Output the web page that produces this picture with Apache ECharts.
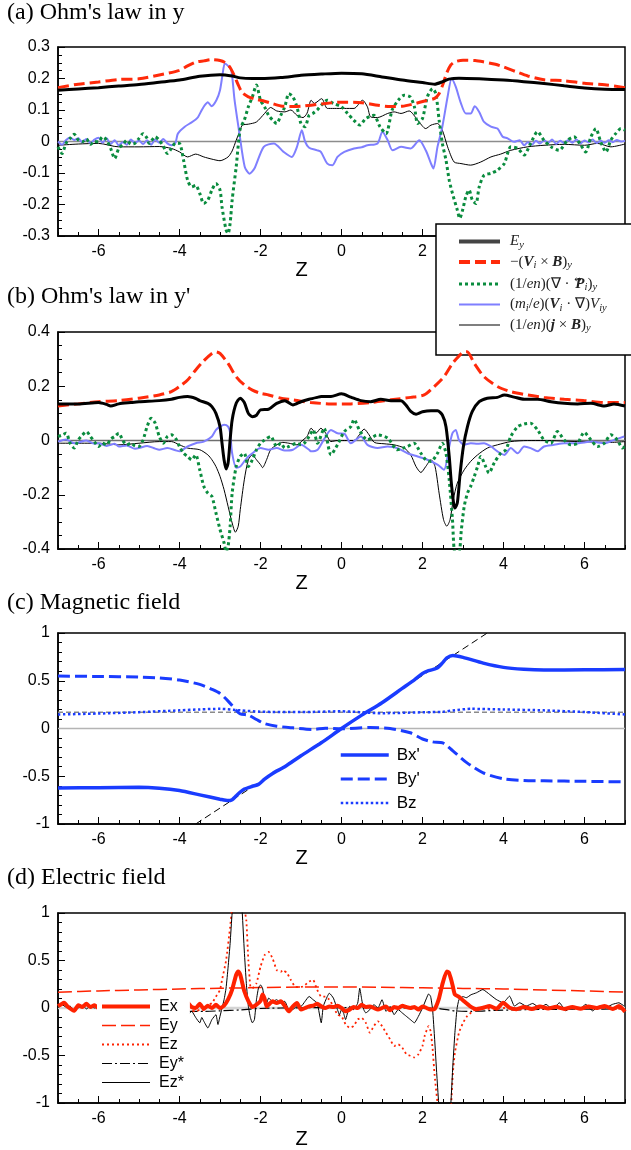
<!DOCTYPE html>
<html>
<head>
<meta charset="utf-8">
<script src="https://cdn.jsdelivr.net/npm/echarts@6/dist/echarts.min.js"></script>
<style>
  html, body { margin: 0; padding: 0; background: #fff; overflow: hidden; }
  #chart { width: 631px; height: 1150px; }
</style>
</head>
<body>
<div id="chart"></div>
<script>
// ---- axis ranges and tick labels ----
const Z_MIN = -7, Z_MAX = 7;
const zTickLabels = [-6, -4, -2, 0, 2, 4, 6];
const panelTitles = ["(a) Ohm's law in y", "(b) Ohm's law in y'", "(c) Magnetic field", "(d) Electric field"];

// reference lines
const zeroLine = [[Z_MIN, 0], [Z_MAX, 0]];
const bzRef = [[Z_MIN, 0.17], [Z_MAX, 0.17]];
const diagRef = [[-3.6, -1], [3.6, 1]];

// ---- (a) Ohm's law in y ----
const aEy = [[-7,0.163],[-6.5,0.167],[-6,0.171],[-5.5,0.176],[-5,0.181],[-4.5,0.188],[-4,0.195],[-3.5,0.207],[-3,0.212],[-2.7,0.208],[-2.5,0.202],[-2.2,0.2],[-2,0.2],[-1.5,0.203],[-1,0.21],[-0.5,0.214],[0,0.217],[0.5,0.215],[1,0.205],[1.5,0.195],[2,0.187],[2.3,0.182],[2.5,0.19],[2.65,0.198],[2.9,0.201],[3.4,0.199],[4,0.195],[4.5,0.19],[5,0.184],[5.5,0.177],[6,0.17],[6.5,0.166],[7,0.165]];
const aVxB = [[-7,0.171],[-6.5,0.182],[-6,0.189],[-5.5,0.197],[-5,0.199],[-4.5,0.211],[-4,0.226],[-3.8,0.24],[-3.6,0.252],[-3.4,0.256],[-3.2,0.26],[-3,0.257],[-2.85,0.249],[-2.75,0.235],[-2.65,0.21],[-2.55,0.18],[-2.45,0.155],[-2.3,0.142],[-2.1,0.134],[-1.9,0.128],[-1.7,0.12],[-1.5,0.113],[-1.2,0.111],[-1,0.112],[-0.5,0.119],[0,0.125],[0.5,0.123],[0.9,0.115],[1.2,0.111],[1.5,0.112],[1.8,0.12],[2.1,0.13],[2.3,0.137],[2.4,0.15],[2.5,0.18],[2.6,0.218],[2.7,0.243],[2.8,0.253],[3,0.258],[3.3,0.257],[3.5,0.253],[3.8,0.245],[4,0.237],[4.3,0.222],[4.6,0.208],[5,0.196],[5.5,0.193],[6,0.185],[6.5,0.18],[7,0.171]];
const aDivP = [[-7,-0.017],[-6.9,-0.038],[-6.8,-0.005],[-6.7,0.01],[-6.6,0.023],[-6.5,0.005],[-6.4,-0.001],[-6.3,0.008],[-6.2,-0.009],[-6.1,0.0],[-6.0,-0.001],[-5.9,0.015],[-5.8,0.005],[-5.7,-0.022],[-5.6,-0.054],[-5.5,-0.022],[-5.4,-0.01],[-5.3,0.004],[-5.2,-0.008],[-5.1,-0.006],[-5.0,0.01],[-4.9,0.025],[-4.8,0.01],[-4.75,-0.006],[-4.6,0.015],[-4.5,0.004],[-4.4,-0.015],[-4.3,-0.038],[-4.2,-0.022],[-4.1,-0.005],[-4.0,-0.006],[-3.9,-0.059],[-3.8,-0.123],[-3.7,-0.144],[-3.6,-0.139],[-3.5,-0.165],[-3.4,-0.197],[-3.3,-0.186],[-3.2,-0.154],[-3.1,-0.133],[-3.0,-0.154],[-2.95,-0.208],[-2.85,-0.281],[-2.8,-0.292],[-2.75,-0.26],[-2.7,-0.186],[-2.6,-0.08],[-2.5,0.041],[-2.4,0.068],[-2.3,0.11],[-2.2,0.142],[-2.1,0.179],[-2.0,0.131],[-1.9,0.11],[-1.8,0.083],[-1.7,0.068],[-1.6,0.057],[-1.5,0.083],[-1.4,0.11],[-1.3,0.152],[-1.2,0.142],[-1.1,0.11],[-1.0,0.057],[-0.9,0.047],[-0.8,0.083],[-0.7,0.09],[-0.6,0.1],[-0.5,0.115],[-0.35,0.131],[-0.2,0.121],[0,0.11],[0.15,0.089],[0.3,0.068],[0.45,0.052],[0.6,0.073],[0.8,0.083],[0.95,0.047],[1.1,0.025],[1.25,0.1],[1.4,0.131],[1.55,0.147],[1.7,0.141],[1.8,0.11],[1.88,0.057],[2.0,0.073],[2.12,0.142],[2.25,0.168],[2.33,0.152],[2.41,0.068],[2.49,-0.006],[2.58,-0.059],[2.66,-0.123],[2.74,-0.165],[2.86,-0.218],[2.92,-0.244],[2.99,-0.218],[3.07,-0.175],[3.15,-0.154],[3.23,-0.186],[3.32,-0.197],[3.4,-0.144],[3.52,-0.107],[3.69,-0.101],[3.85,-0.091],[4.02,-0.07],[4.18,-0.017],[4.35,-0.022],[4.51,-0.043],[4.67,-0.006],[4.84,0.031],[5.0,0.004],[5.17,-0.017],[5.37,-0.028],[5.58,0.004],[5.74,0.015],[5.91,-0.012],[6.03,-0.033],[6.16,0.015],[6.28,0.041],[6.4,-0.001],[6.53,-0.033],[6.65,0.004],[6.77,0.025],[6.9,0.041],[7.0,0.036]];
const aVgradV = [[-7,0.0],[-6.9,-0.01],[-6.8,0.005],[-6.7,0.012],[-6.6,0.005],[-6.5,0.01],[-6.4,-0.002],[-6.3,0.008],[-6.2,-0.005],[-6.1,0.006],[-6.0,0.012],[-5.9,-0.004],[-5.8,0.01],[-5.7,-0.008],[-5.6,0.004],[-5.5,-0.012],[-5.4,-0.002],[-5.3,-0.01],[-5.2,0.006],[-5.1,-0.005],[-5.0,0.003],[-4.9,-0.008],[-4.8,0.004],[-4.7,-0.01],[-4.6,0.006],[-4.5,-0.004],[-4.4,0.008],[-4.3,-0.006],[-4.2,-0.012],[-4.1,-0.004],[-4.04,0.025],[-3.87,0.047],[-3.71,0.06],[-3.6,0.07],[-3.54,0.078],[-3.45,0.1],[-3.38,0.115],[-3.3,0.125],[-3.21,0.112],[-3.09,0.131],[-3.0,0.163],[-2.94,0.21],[-2.88,0.248],[-2.8,0.24],[-2.72,0.226],[-2.64,0.131],[-2.52,0.025],[-2.39,-0.08],[-2.27,-0.102],[-2.15,-0.086],[-1.92,-0.017],[-1.67,-0.006],[-1.43,-0.033],[-1.23,-0.049],[-1.1,-0.017],[-0.98,0.036],[-0.9,0.0],[-0.8,-0.02],[-0.6,-0.028],[-0.51,-0.033],[-0.35,-0.07],[-0.22,-0.075],[-0.1,-0.049],[0.07,-0.033],[0.31,-0.022],[0.5,-0.018],[0.64,-0.012],[0.89,-0.006],[1.01,0.031],[1.14,0.004],[1.26,-0.028],[1.47,-0.017],[1.71,-0.022],[1.92,0.004],[2.08,-0.028],[2.21,-0.07],[2.27,-0.086],[2.37,-0.017],[2.49,0.047],[2.62,0.142],[2.72,0.2],[2.82,0.174],[2.95,0.121],[3.07,0.089],[3.19,0.089],[3.29,0.112],[3.4,0.094],[3.52,0.062],[3.69,0.047],[3.85,0.041],[3.98,0.015],[4.1,0.01],[4.26,-0.001],[4.4,0.004],[4.51,-0.012],[4.6,-0.002],[4.7,-0.01],[4.8,0.002],[4.9,-0.006],[5.0,0.004],[5.1,-0.004],[5.2,0.006],[5.3,-0.008],[5.4,0.002],[5.5,-0.005],[5.6,0.005],[5.7,-0.004],[5.8,0.006],[5.9,-0.006],[6.0,0.003],[6.1,-0.003],[6.2,0.006],[6.3,-0.005],[6.4,0.002],[6.5,-0.004],[6.6,0.004],[6.7,-0.002],[6.8,0.005],[6.9,0.0],[7.0,0.002]];
const aJxB = [[-7,-0.012],[-6.5,-0.008],[-6,-0.006],[-5.5,-0.017],[-5,-0.017],[-4.5,-0.016],[-4.2,-0.022],[-4,-0.033],[-3.8,-0.049],[-3.6,-0.04],[-3.4,-0.049],[-3.2,-0.056],[-3,-0.061],[-2.8,-0.049],[-2.7,-0.03],[-2.6,0.004],[-2.5,0.036],[-2.45,0.052],[-2.3,0.055],[-2.1,0.062],[-1.9,0.089],[-1.75,0.108],[-1.6,0.097],[-1.4,0.094],[-1.25,0.1],[-1.1,0.083],[-0.95,0.076],[-0.85,0.09],[-0.75,0.131],[-0.67,0.121],[-0.49,0.136],[-0.35,0.105],[-0.18,0.105],[0.07,0.105],[0.31,0.105],[0.52,0.131],[0.64,0.11],[0.72,0.078],[0.89,0.076],[1.14,0.089],[1.3,0.094],[1.47,0.089],[1.67,0.097],[1.88,0.068],[2.08,0.041],[2.21,0.052],[2.37,0.057],[2.49,0.036],[2.62,-0.017],[2.78,-0.065],[2.95,-0.07],[3.19,-0.075],[3.44,-0.065],[3.69,-0.049],[3.93,-0.04],[4.18,-0.028],[4.59,-0.017],[5,-0.012],[5.5,-0.009],[6,-0.012],[6.32,-0.006],[6.65,-0.017],[7,-0.008]];

// ---- (b) Ohm's law in y' ----
const bEy = [[-7,0.135],[-6.5,0.135],[-6,0.14],[-5.8,0.133],[-5.7,0.127],[-5.5,0.135],[-5.2,0.14],[-5,0.143],[-4.5,0.147],[-4.2,0.152],[-4,0.159],[-3.8,0.162],[-3.6,0.155],[-3.5,0.147],[-3.3,0.137],[-3.2,0.125],[-3.1,0.1],[-3.0,0.051],[-2.95,-0.01],[-2.9,-0.071],[-2.85,-0.105],[-2.8,-0.083],[-2.75,0.002],[-2.7,0.076],[-2.6,0.137],[-2.5,0.156],[-2.4,0.14],[-2.3,0.1],[-2.2,0.088],[-2.1,0.093],[-2.0,0.113],[-1.8,0.115],[-1.6,0.137],[-1.4,0.147],[-1.2,0.131],[-1.0,0.143],[-0.8,0.152],[-0.6,0.159],[-0.5,0.162],[-0.26,0.162],[0,0.172],[0.23,0.16],[0.48,0.147],[0.72,0.143],[0.97,0.152],[1.22,0.147],[1.47,0.147],[1.59,0.131],[1.71,0.107],[1.84,0.097],[2.0,0.106],[2.21,0.11],[2.37,0.11],[2.49,0.094],[2.58,0.051],[2.66,-0.059],[2.72,-0.169],[2.8,-0.249],[2.86,-0.23],[2.93,-0.12],[3.01,-0.022],[3.11,0.051],[3.23,0.107],[3.4,0.143],[3.6,0.156],[3.85,0.159],[4.02,0.168],[4.26,0.16],[4.51,0.152],[4.84,0.152],[5.17,0.143],[5.5,0.137],[5.83,0.135],[6.16,0.137],[6.49,0.127],[6.73,0.135],[7,0.127]];
const bVxB = [[-7,0.127],[-6.5,0.135],[-6,0.143],[-5.5,0.147],[-5,0.156],[-4.5,0.168],[-4.2,0.18],[-4,0.199],[-3.8,0.223],[-3.6,0.26],[-3.4,0.294],[-3.2,0.321],[-3.1,0.327],[-3.0,0.321],[-2.8,0.284],[-2.6,0.235],[-2.4,0.205],[-2.2,0.186],[-2.0,0.174],[-1.8,0.168],[-1.5,0.156],[-1.2,0.15],[-1.0,0.145],[-0.76,0.14],[-0.26,0.135],[0.23,0.135],[0.72,0.14],[1.22,0.15],[1.71,0.159],[2.04,0.168],[2.29,0.199],[2.53,0.235],[2.74,0.284],[2.86,0.305],[3.0,0.325],[3.1,0.327],[3.28,0.284],[3.52,0.235],[3.85,0.199],[4.18,0.18],[4.59,0.168],[5.0,0.159],[5.5,0.152],[6.0,0.147],[6.5,0.14],[7.0,0.14]];
const bDivP = [[-7,0.015],[-6.9,0.02],[-6.8,0.027],[-6.7,-0.01],[-6.6,-0.028],[-6.5,0.002],[-6.4,0.02],[-6.3,0.033],[-6.2,0.015],[-6.1,-0.005],[-6.0,-0.022],[-5.9,-0.01],[-5.8,-0.016],[-5.7,0.005],[-5.6,0.015],[-5.5,0.027],[-5.4,0.0],[-5.3,-0.016],[-5.2,-0.01],[-5.1,-0.02],[-5.0,-0.022],[-4.9,0.002],[-4.8,0.051],[-4.7,0.082],[-4.6,0.064],[-4.5,0.015],[-4.4,-0.01],[-4.3,0.015],[-4.2,0.021],[-4.1,0.009],[-4.0,-0.022],[-3.9,-0.047],[-3.8,-0.059],[-3.7,-0.071],[-3.6,-0.053],[-3.5,-0.108],[-3.4,-0.169],[-3.3,-0.194],[-3.2,-0.206],[-3.1,-0.267],[-3.0,-0.328],[-2.9,-0.377],[-2.85,-0.41],[-2.8,-0.39],[-2.75,-0.316],[-2.7,-0.194],[-2.6,-0.096],[-2.5,-0.059],[-2.4,-0.047],[-2.3,-0.096],[-2.2,-0.071],[-2.1,-0.034],[-2.0,-0.01],[-1.9,0.002],[-1.75,0.015],[-1.6,-0.022],[-1.5,-0.01],[-1.4,-0.028],[-1.3,-0.022],[-1.1,-0.01],[-1.0,-0.016],[-0.9,-0.007],[-0.8,0.015],[-0.7,0.039],[-0.59,-0.01],[-0.43,0.045],[-0.26,-0.053],[-0.1,-0.016],[0.07,0.033],[0.23,0.051],[0.31,0.078],[0.44,0.039],[0.64,0.002],[0.89,0.021],[1.14,0.009],[1.38,-0.034],[1.63,-0.022],[1.79,-0.01],[1.96,-0.047],[2.08,-0.071],[2.21,-0.077],[2.37,-0.047],[2.49,-0.01],[2.58,-0.047],[2.66,-0.145],[2.74,-0.292],[2.8,-0.41],[2.9,-0.41],[2.96,-0.328],[3.03,-0.243],[3.11,-0.194],[3.19,-0.169],[3.28,-0.132],[3.36,-0.096],[3.44,-0.059],[3.56,-0.096],[3.64,-0.12],[3.77,-0.083],[3.93,-0.047],[4.06,-0.034],[4.18,0.015],[4.35,0.051],[4.51,0.061],[4.67,0.064],[4.84,0.039],[5.0,0.002],[5.17,-0.01],[5.33,0.033],[5.5,0.002],[5.66,-0.016],[5.83,-0.01],[5.99,0.03],[6.16,0.002],[6.32,-0.022],[6.49,-0.01],[6.65,0.021],[6.81,0.002],[6.94,-0.028],[7.0,-0.02]];
const bVgradV = [[-7,-0.004],[-6.8,0.004],[-6.6,-0.01],[-6.5,-0.008],[-6.3,0.0],[-6.1,-0.012],[-6,-0.01],[-5.8,-0.02],[-5.6,-0.012],[-5.5,-0.022],[-5.3,-0.018],[-5.1,-0.03],[-5,-0.028],[-4.8,-0.02],[-4.6,-0.03],[-4.5,-0.034],[-4.3,-0.028],[-4.1,-0.036],[-4,-0.04],[-3.8,-0.022],[-3.6,-0.01],[-3.4,-0.004],[-3.2,0.015],[-3.1,0.039],[-3.0,0.051],[-2.9,0.058],[-2.8,0.051],[-2.75,0.027],[-2.7,-0.047],[-2.6,-0.1],[-2.5,-0.096],[-2.4,-0.077],[-2.3,-0.059],[-2.2,-0.047],[-2.0,-0.028],[-1.8,-0.034],[-1.6,-0.028],[-1.4,-0.037],[-1.2,-0.034],[-1.0,-0.016],[-0.8,-0.034],[-0.76,-0.04],[-0.59,-0.034],[-0.43,0.005],[-0.26,0.039],[-0.1,0.027],[0.07,0.025],[0.23,-0.01],[0.48,0.015],[0.64,-0.016],[0.89,-0.028],[1.14,-0.022],[1.38,-0.028],[1.63,-0.047],[1.88,-0.059],[2.12,-0.071],[2.37,-0.089],[2.53,-0.108],[2.66,-0.022],[2.74,0.027],[2.82,0.039],[2.9,0.002],[3.03,-0.016],[3.19,-0.01],[3.36,-0.012],[3.52,-0.01],[3.69,-0.022],[3.85,-0.04],[4.02,-0.053],[4.18,-0.028],[4.35,-0.047],[4.51,-0.022],[4.67,-0.028],[4.84,-0.04],[5.0,-0.022],[5.25,-0.016],[5.5,-0.01],[5.83,-0.01],[6.16,-0.004],[6.49,-0.01],[6.73,0.002],[6.98,0.015]];
const bJxB = [[-7,-0.01],[-6,-0.01],[-5.5,-0.016],[-5,-0.01],[-4.5,-0.004],[-4.2,-0.004],[-4.0,-0.016],[-3.8,-0.028],[-3.5,-0.034],[-3.3,-0.053],[-3.2,-0.071],[-3.1,-0.096],[-3.0,-0.132],[-2.9,-0.181],[-2.8,-0.243],[-2.7,-0.304],[-2.62,-0.338],[-2.55,-0.316],[-2.5,-0.255],[-2.4,-0.145],[-2.3,-0.071],[-2.2,-0.053],[-2.1,-0.071],[-2.0,-0.089],[-1.95,-0.1],[-1.85,-0.071],[-1.75,-0.034],[-1.6,-0.016],[-1.45,-0.007],[-1.3,-0.01],[-1.1,-0.016],[-0.95,0.002],[-0.85,0.015],[-0.75,0.045],[-0.63,0.027],[-0.51,0.045],[-0.39,0.027],[-0.26,-0.004],[-0.1,0.0],[0.07,0.0],[0.31,0.0],[0.44,0.021],[0.56,0.042],[0.68,0.021],[0.81,-0.007],[1.05,-0.012],[1.3,-0.016],[1.55,-0.028],[1.71,-0.053],[1.84,-0.096],[1.96,-0.118],[2.08,-0.096],[2.21,-0.071],[2.31,-0.096],[2.41,-0.194],[2.52,-0.292],[2.6,-0.316],[2.68,-0.292],[2.76,-0.218],[2.86,-0.157],[3.03,-0.108],[3.19,-0.077],[3.36,-0.053],[3.6,-0.028],[3.85,-0.016],[4.18,-0.004],[4.59,0.0],[5.0,0.0],[5.83,-0.004],[6.65,-0.007],[7.0,-0.004]];

// ---- (c) Magnetic field ----
const cBx = [[-7,-0.622],[-6,-0.62],[-5,-0.615],[-4.5,-0.625],[-4,-0.65],[-3.5,-0.695],[-3,-0.74],[-2.8,-0.755],[-2.7,-0.745],[-2.6,-0.705],[-2.5,-0.665],[-2.4,-0.635],[-2.2,-0.605],[-2.05,-0.585],[-1.9,-0.53],[-1.7,-0.47],[-1.4,-0.4],[-1,-0.285],[-0.5,-0.15],[0,0.0],[0.5,0.14],[1,0.27],[1.5,0.42],[1.8,0.51],[2.0,0.575],[2.15,0.605],[2.35,0.63],[2.5,0.69],[2.6,0.74],[2.75,0.765],[3.0,0.745],[3.5,0.685],[4,0.64],[4.5,0.62],[5,0.612],[6,0.615],[7,0.618]];
const cBy = [[-7,0.549],[-6,0.545],[-5,0.538],[-4.5,0.53],[-4,0.507],[-3.5,0.462],[-3.2,0.41],[-3,0.367],[-2.8,0.287],[-2.6,0.192],[-2.5,0.152],[-2.3,0.14],[-2.1,0.094],[-1.9,0.052],[-1.6,0.024],[-1.2,0.007],[-0.7,-0.01],[-0.4,0.003],[0,-0.003],[0.7,0.01],[1.2,0.0],[1.7,-0.045],[2.0,-0.11],[2.25,-0.14],[2.5,-0.15],[2.75,-0.235],[3.1,-0.36],[3.5,-0.465],[4.0,-0.528],[4.5,-0.545],[5.0,-0.548],[6,-0.553],[7,-0.559]];
const cBz = [[-7,0.147],[-6,0.157],[-5,0.171],[-4,0.19],[-3.5,0.2],[-3,0.206],[-2.5,0.19],[-2,0.176],[-1,0.172],[0,0.18],[1,0.16],[2,0.17],[2.5,0.175],[2.8,0.192],[3.2,0.206],[4,0.199],[5,0.19],[6,0.172],[7,0.147]];

// ---- (d) Electric field ----
const dEx = [[-7,0.02],[-6.92,0.04],[-6.85,0.055],[-6.75,0.01],[-6.65,-0.02],[-6.6,-0.03],[-6.5,0.03],[-6.4,0.01],[-6.3,0.045],[-6.2,0.01],[-6.1,0.03],[-6.0,0.0],[-5.5,0.01],[-5,0.0],[-4.5,0.01],[-4.0,0.0],[-3.8,0.055],[-3.7,0.01],[-3.6,0.0],[-3.5,0.045],[-3.4,-0.01],[-3.3,0.024],[-3.2,0.0],[-3.1,0.035],[-3.0,0.0],[-2.9,0.024],[-2.8,0.09],[-2.7,0.194],[-2.6,0.35],[-2.55,0.385],[-2.5,0.35],[-2.45,0.264],[-2.4,0.177],[-2.3,0.073],[-2.2,0.01],[-2.1,0.035],[-2.0,0.073],[-1.95,0.142],[-1.9,0.1],[-1.85,0.017],[-1.8,0.035],[-1.7,0.07],[-1.6,0.052],[-1.5,0.07],[-1.4,0.024],[-1.3,-0.035],[-1.2,0.017],[-1.1,0.052],[-1.0,-0.017],[-0.9,0.0],[-0.8,0.017],[-0.7,0.024],[-0.6,0.045],[-0.5,0.017],[-0.4,0.0],[-0.3,0.017],[-0.2,0.01],[-0.1,0.024],[0,0.0],[0.1,-0.035],[0.2,-0.017],[0.3,0.01],[0.4,0.0],[0.5,0.035],[0.6,0.01],[0.7,0.017],[0.8,0.0],[0.9,-0.017],[1.0,0.0],[1.1,0.017],[1.2,-0.024],[1.3,0.01],[1.4,0.0],[1.5,0.024],[1.6,0.01],[1.7,0.0],[1.8,0.01],[1.9,-0.017],[2.0,0.017],[2.1,0.0],[2.2,-0.017],[2.3,-0.01],[2.4,0.09],[2.5,0.264],[2.6,0.385],[2.65,0.375],[2.7,0.31],[2.75,0.226],[2.8,0.142],[2.9,0.118],[3.0,0.08],[3.17,0.02],[3.33,-0.012],[3.5,0.003],[3.66,0.02],[3.83,-0.007],[3.99,0.055],[4.15,0.003],[4.32,-0.012],[4.5,0.01],[4.7,-0.01],[4.9,0.015],[5.1,-0.005],[5.3,0.012],[5.5,-0.01],[5.7,0.01],[5.9,-0.008],[6.1,0.015],[6.3,0.0],[6.5,0.02],[6.7,-0.01],[6.85,0.02],[7.0,-0.04]];
const dEy = [[-7,0.167],[-6,0.18],[-5,0.19],[-4,0.2],[-3,0.208],[-2,0.215],[-1,0.22],[0,0.222],[1,0.218],[2,0.212],[3,0.206],[4,0.2],[5,0.19],[6,0.18],[7,0.167]];
const dEz = [[-3.8,-0.02],[-3.7,-0.03],[-3.6,-0.035],[-3.5,-0.02],[-3.4,-0.02],[-3.3,0.03],[-3.2,0.05],[-3.1,0.12],[-3.0,0.19],[-2.95,0.295],[-2.85,0.5],[-2.75,0.85],[-2.7,1.05],[-2.6,1.25],[-2.5,1.25],[-2.4,1.05],[-2.35,0.92],[-2.3,0.5],[-2.25,0.226],[-2.2,0.208],[-2.1,0.26],[-2.0,0.434],[-1.9,0.556],[-1.8,0.59],[-1.7,0.52],[-1.6,0.4],[-1.5,0.38],[-1.45,0.4],[-1.35,0.37],[-1.25,0.295],[-1.15,0.226],[-1.05,0.22],[-0.95,0.226],[-0.8,0.278],[-0.7,0.295],[-0.6,0.19],[-0.5,0.12],[-0.4,0.12],[-0.3,0.087],[-0.2,0.017],[-0.1,-0.07],[0,-0.087],[0.1,-0.17],[0.2,-0.208],[0.3,-0.19],[0.4,-0.12],[0.5,-0.104],[0.6,-0.156],[0.7,-0.26],[0.8,-0.19],[0.9,-0.14],[1.0,-0.19],[1.1,-0.26],[1.2,-0.33],[1.3,-0.4],[1.4,-0.382],[1.5,-0.417],[1.6,-0.486],[1.7,-0.503],[1.8,-0.52],[1.9,-0.486],[2.0,-0.4],[2.05,-0.3],[2.15,-0.19],[2.2,-0.243],[2.25,-0.43],[2.3,-0.71],[2.4,-1.1],[2.5,-1.25],[2.6,-1.25],[2.7,-1.05],[2.75,-0.68],[2.8,-0.47],[2.9,-0.26],[3.0,-0.156],[3.1,-0.087],[3.25,-0.03],[3.4,0.0],[3.6,-0.01],[4,0.0],[4.5,-0.005],[5,0.0],[5.5,-0.005],[6,0.0],[6.5,0.0],[7,-0.01]];
const dEyStar = [[-3.8,-0.035],[-3.4,-0.035],[-3,-0.03],[-2.5,-0.02],[-2,-0.005],[-1,0.003],[0,0.005],[1,0.003],[2,0.0],[2.4,-0.005],[2.8,-0.03],[3.2,-0.035],[3.8,-0.025],[5,-0.015],[6,-0.012],[7,-0.01]];
const dEzStar = [[-7,0.0],[-6.9,0.035],[-6.8,0.01],[-6.7,0.02],[-6.6,-0.035],[-6.5,0.0],[-6.4,0.03],[-6.3,-0.01],[-6.2,0.02],[-6.1,0.0],[-6.0,0.01],[-5.5,0.0],[-5,0.0],[-4.5,0.0],[-4.0,-0.03],[-3.8,-0.07],[-3.7,-0.035],[-3.6,-0.1],[-3.5,-0.156],[-3.45,-0.1],[-3.4,-0.139],[-3.3,-0.21],[-3.2,-0.122],[-3.1,-0.07],[-3.05,-0.174],[-3.0,-0.087],[-2.9,0.087],[-2.85,0.21],[-2.8,0.43],[-2.75,0.68],[-2.7,1.0],[-2.62,1.3],[-2.55,1.35],[-2.48,1.2],[-2.45,1.0],[-2.4,0.6],[-2.35,0.26],[-2.3,0.017],[-2.25,-0.1],[-2.2,-0.156],[-2.15,-0.122],[-2.1,0.087],[-2.05,0.21],[-2.0,0.243],[-1.95,0.21],[-1.9,0.087],[-1.85,0.052],[-1.8,0.104],[-1.7,0.07],[-1.6,0.087],[-1.5,0.052],[-1.4,0.07],[-1.3,-0.017],[-1.2,-0.017],[-1.1,0.024],[-1.0,0.017],[-0.9,0.07],[-0.8,0.122],[-0.7,0.087],[-0.6,0.052],[-0.5,-0.156],[-0.45,0.017],[-0.35,0.122],[-0.3,0.156],[-0.2,0.104],[-0.1,-0.017],[-0.05,-0.07],[0,-0.017],[0.05,-0.052],[0.1,-0.122],[0.2,0.017],[0.3,-0.017],[0.4,0.052],[0.45,0.208],[0.5,0.087],[0.55,-0.017],[0.6,-0.052],[0.7,-0.017],[0.8,0.035],[0.9,0.0],[1.0,0.087],[1.1,-0.035],[1.2,0.017],[1.3,-0.07],[1.4,-0.017],[1.5,-0.052],[1.6,-0.087],[1.7,-0.122],[1.8,-0.156],[1.9,-0.087],[2.0,0.0],[2.1,0.104],[2.15,0.148],[2.2,0.122],[2.25,-0.017],[2.3,-0.33],[2.35,-0.68],[2.4,-1.0],[2.48,-1.3],[2.55,-1.35],[2.62,-1.3],[2.7,-1.0],[2.75,-0.6],[2.8,-0.26],[2.85,-0.017],[2.9,0.087],[3.0,0.12],[3.08,0.108],[3.2,0.14],[3.33,0.16],[3.49,0.194],[3.66,0.142],[3.82,0.09],[3.99,0.055],[4.15,0.125],[4.27,0.02],[4.4,0.055],[4.56,0.02],[4.72,0.048],[4.89,0.003],[5.05,0.038],[5.21,-0.014],[5.38,0.055],[5.54,-0.03],[5.7,0.02],[5.87,-0.014],[6.03,0.038],[6.2,-0.03],[6.36,0.02],[6.52,0.003],[6.69,0.038],[6.85,0.055],[6.98,0.02]];

// ---- styling ----
const SANS = 'Liberation Sans';
const SERIF = 'Liberation Serif';
const RED = '#ff2a0a', GREEN = '#0a8c3e', LBLUE = '#7f7fff', BLUE = '#1a3cff', ERED = '#ff2200';

// grid placement per panel
const panels = [
  { top: 47,  height: 189, min: -0.3, max: 0.3, interval: 0.1, minor: 4, nameGap: 22 },
  { top: 332, height: 217, min: -0.4, max: 0.4, interval: 0.2, minor: 4, nameGap: 23 },
  { top: 633, height: 191, min: -1,   max: 1,   interval: 0.5, minor: 5, nameGap: 22 },
  { top: 913, height: 192, min: -1,   max: 1,   interval: 0.5, minor: 5, nameGap: 26 }
];
const titleTops = [1, 285, 591, 866];

const grids = panels.map(p => ({
  left: 58, width: 567, top: p.top, height: p.height,
  show: true, borderColor: '#000', borderWidth: 1.5, backgroundColor: 'transparent'
}));

const xAxes = [];
panels.forEach((p, gi) => {
  // main axis: half-unit minor ticks, even labels, name
  xAxes.push({
    gridIndex: gi, type: 'value', position: 'bottom', min: Z_MIN, max: Z_MAX, interval: 0.5,
    axisLine: { onZero: false, lineStyle: { color: '#000', width: 1.5 } },
    axisTick: { inside: true, length: 4, lineStyle: { color: '#000', width: 1 } },
    axisLabel: { customValues: zTickLabels, color: '#000', fontFamily: SANS, fontSize: 16, margin: 8 },
    splitLine: { show: false },
    name: 'Z', nameLocation: 'middle', nameGap: p.nameGap,
    nameTextStyle: { color: '#000', fontFamily: SANS, fontSize: 20, padding: [0, 80, 0, 0] }
  });
  // companion axis carrying the longer ticks at the labelled values
  xAxes.push({
    gridIndex: gi, type: 'value', position: 'bottom', min: Z_MIN, max: Z_MAX, interval: 0.5,
    axisLine: { show: false, onZero: false },
    axisTick: { inside: true, length: 7, customValues: zTickLabels, lineStyle: { color: '#000', width: 1 } },
    axisLabel: { show: false }, splitLine: { show: false }
  });
});

const yAxes = panels.map((p, gi) => ({
  gridIndex: gi, type: 'value', position: 'left', min: p.min, max: p.max, interval: p.interval,
  axisLine: { onZero: false, lineStyle: { color: '#000', width: 1.5 } },
  axisTick: { inside: true, length: 7, lineStyle: { color: '#000', width: 1 } },
  minorTick: { show: true, splitNumber: p.minor, length: 4, lineStyle: { color: '#000', width: 1 } },
  axisLabel: { color: '#000', fontFamily: SANS, fontSize: 16, margin: 8 },
  splitLine: { show: false }, minorSplitLine: { show: false }
}));

function curve(name, gi, data, color, width, dash, smooth) {
  return {
    name, type: 'line', xAxisIndex: gi * 2, yAxisIndex: gi, data,
    symbol: 'none', smooth: smooth === undefined ? 0.25 : smooth, clip: true,
    lineStyle: { color, width, type: dash || 'solid', cap: 'butt' },
    itemStyle: { color },
    emphasis: { disabled: true }, silent: true, animation: false
  };
}
function refLine(gi, data, color, width, dash) {
  const s = curve('', gi, data, color, width, dash, false);
  delete s.name;
  return s;
}

const series = [
  // (a)
  refLine(0, zeroLine, '#8c8c8c', 1.5),
  curve('jxb', 0, aJxB, '#000', 1),
  curve('vgrad', 0, aVgradV, LBLUE, 2),
  curve('divp', 0, aDivP, GREEN, 3, [3, 3]),
  curve('vxb', 0, aVxB, RED, 3, [11, 5]),
  curve('ey', 0, aEy, '#000', 3),
  // (b)
  refLine(1, zeroLine, '#6e6e6e', 1.5),
  curve('jxb', 1, bJxB, '#000', 1),
  curve('vgrad', 1, bVgradV, LBLUE, 2),
  curve('divp', 1, bDivP, GREEN, 3, [3, 3]),
  curve('vxb', 1, bVxB, RED, 3, [11, 5]),
  curve('ey', 1, bEy, '#000', 3),
  // (c)
  refLine(2, zeroLine, '#b4b4b4', 1.5),
  refLine(2, bzRef, '#8a8a8a', 1.5, [5, 3]),
  refLine(2, diagRef, '#000', 1, [7, 4]),
  curve("Bz", 2, cBz, BLUE, 2.5, [2.5, 2.5]),
  curve("By'", 2, cBy, BLUE, 3, [12, 5]),
  curve("Bx'", 2, cBx, BLUE, 3.5),
  // (d)
  refLine(3, zeroLine, '#d4d4d4', 2.5),
  curve('Ey*', 3, dEyStar, '#000', 1.2, [10, 3, 2, 3]),
  curve('Ey', 3, dEy, ERED, 1.5, [14, 5]),
  curve('Ez', 3, dEz, ERED, 1.8, [2, 3], 0.15),
  curve('Ez*', 3, dEzStar, '#000', 1, 'solid', 0.15),
  curve('Ex', 3, dEx, ERED, 4, 'solid', 0.2)
];

// rich text pieces for the math legend
const rich = {
  n: { fontFamily: SERIF, fontSize: 15, lineHeight: 18, color: '#222' },
  i: { fontFamily: SERIF, fontSize: 15, lineHeight: 18, fontStyle: 'italic', color: '#222' },
  b: { fontFamily: SERIF, fontSize: 15, lineHeight: 18, fontStyle: 'italic', fontWeight: 'bold', color: '#222' },
  s: { fontFamily: SERIF, fontSize: 10.5, lineHeight: 11, fontStyle: 'italic', verticalAlign: 'bottom', color: '#222' },
  // double-headed arrow placed over the following letter (tensor mark)
  ar: { fontFamily: 'DejaVu Sans', fontSize: 9, lineHeight: 8, verticalAlign: 'top', width: 1, align: 'left', color: '#222', padding: [0, 0, 0, 1] }
};
const mathLabels = {
  ey: '{i|E}{s|y}',
  vxb: '{n|−(}{b|V}{s|i}{n| × }{b|B}{n|)}{s|y}',
  divp: '{n|(1/}{i|en}{n|)(∇ · }{ar|↔}{b|P}{s|i}{n|)}{s|y}',
  vgrad: '{n|(}{i|m}{s|i}{n|/}{i|e}{n|)(}{b|V}{s|i}{n| · ∇)}{i|V}{s|iy}',
  jxb: '{n|(1/}{i|en}{n|)(}{b|j}{n| × }{b|B}{n|)}{s|y}'
};

const legends = [
  {
    orient: 'vertical', left: 457, top: 234, selectedMode: false,
    data: [
      { name: 'ey', lineStyle: { width: 4, color: '#444', type: 'solid' } },
      { name: 'vxb', lineStyle: { width: 4, type: [11, 5] } },
      { name: 'divp', lineStyle: { width: 3, type: [3, 3] } },
      { name: 'vgrad', lineStyle: { width: 2 } },
      { name: 'jxb', lineStyle: { width: 1.2 } }
    ],
    itemWidth: 41, itemHeight: 14, itemGap: 4, padding: 0,
    itemStyle: { opacity: 0 },
    formatter: name => mathLabels[name],
    textStyle: { fontFamily: SERIF, fontSize: 15, color: '#222', padding: [0, 0, 0, 5], rich }
  },
  {
    orient: 'vertical', left: 339, top: 745, selectedMode: false,
    data: [
      { name: "Bx'", lineStyle: { width: 3.5 } },
      { name: "By'", lineStyle: { width: 3, type: [12, 5] } },
      { name: 'Bz', lineStyle: { width: 2.5, type: [2.5, 2.5] } }
    ],
    itemWidth: 48, itemHeight: 14, itemGap: 4, padding: 0,
    itemStyle: { opacity: 0 },
    textStyle: { fontFamily: SANS, fontSize: 17, lineHeight: 20, color: '#000', padding: [0, 0, 0, 3] }
  },
  {
    orient: 'vertical', left: 97, top: 998, selectedMode: false,
    data: [
      { name: 'Ex', lineStyle: { width: 4 } },
      { name: 'Ey', lineStyle: { width: 1.5, type: [14, 5] } },
      { name: 'Ez', lineStyle: { width: 1.8, type: [2, 3] } },
      { name: 'Ey*', lineStyle: { width: 1.2, type: [10, 3, 2, 3] } },
      { name: 'Ez*', lineStyle: { width: 1 } }
    ],
    itemWidth: 48, itemHeight: 14, itemGap: 2, padding: [0, 6, 4, 3],
    backgroundColor: '#fff',
    itemStyle: { opacity: 0 },
    textStyle: { fontFamily: SANS, fontSize: 16, lineHeight: 17, color: '#000', padding: [0, 0, 0, 4] }
  }
];

// box behind the (a) legend: white fill plus an open frame (left, top, bottom);
// its right side lies beyond the page edge
const legendFill = {
  type: 'rect', z: 3, silent: true,
  shape: { x: 436, y: 224, width: 400, height: 131 },
  style: { fill: '#fff', lineWidth: 0 }
};
const legendEdge = {
  type: 'polyline', z: 3, silent: true,
  shape: { points: [[836, 224], [436, 224], [436, 355], [836, 355]] },
  style: { stroke: '#000', lineWidth: 1.5, fill: null }
};

const titles = panelTitles.map((t, i) => ({
  text: t, left: 7, top: titleTops[i], padding: 0,
  textStyle: { fontFamily: SERIF, fontSize: 24, fontWeight: 'normal', color: '#000' }
}));

const chart = echarts.init(document.getElementById('chart'), null, { renderer: 'canvas' });
chart.setOption({
  animation: false,
  backgroundColor: '#fff',
  title: titles,
  grid: grids,
  xAxis: xAxes,
  yAxis: yAxes,
  legend: legends,
  graphic: { elements: [legendFill, legendEdge] },
  series
});
</script>
</body>
</html>
